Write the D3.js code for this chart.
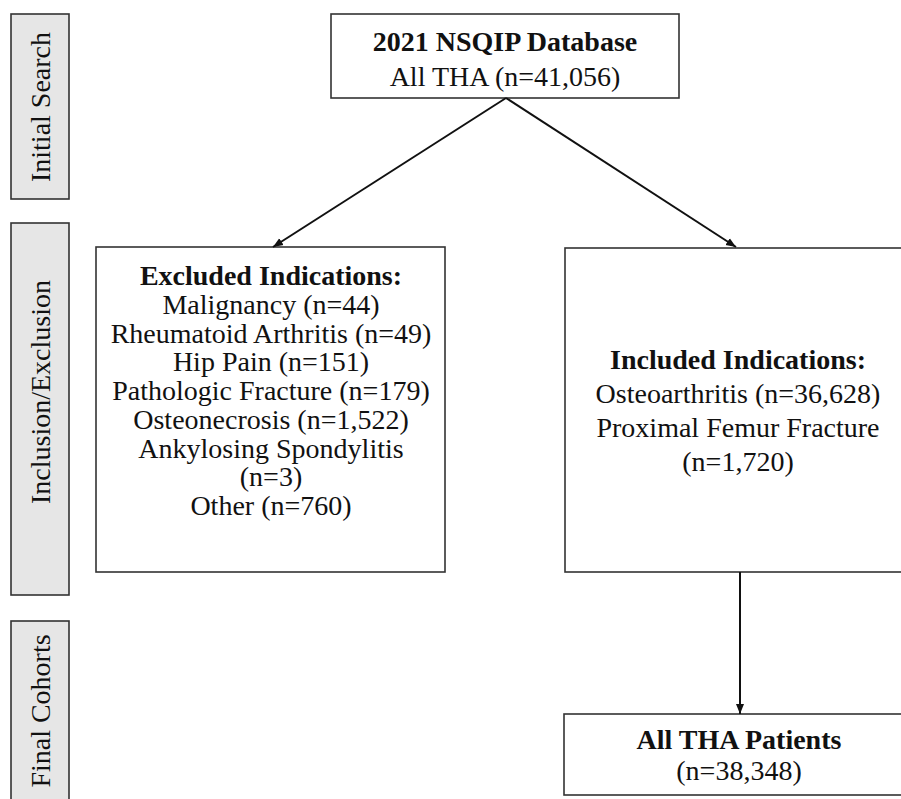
<!DOCTYPE html>
<html>
<head>
<meta charset="utf-8">
<script src="https://cdn.jsdelivr.net/npm/d3@7"></script>
<style>
  body { margin: 0; background: #fff; }
  svg { display: block; }
</style>
</head>
<body>
<div id="chart"></div>
<script>
// stage labels down the left side
const stageNames = ["Initial Search", "Inclusion/Exclusion", "Final Cohorts"];

// source cohort
const sourceTitle = "2021 NSQIP Database";
const sourceLabel = "All THA";
const sourceCount = 41056;

// excluded indications (label lines, count)
const excludedTitle = "Excluded Indications:";
const excludedNames = ["Malignancy", "Rheumatoid Arthritis", "Hip Pain", "Pathologic Fracture", "Osteonecrosis", "Ankylosing Spondylitis", "Other"];
const excludedCounts = [44, 49, 151, 179, 1522, 3, 760];
const excludedWrap = [false, false, false, false, false, true, false];

// included indications
const includedTitle = "Included Indications:";
const includedNames = ["Osteoarthritis", "Proximal Femur Fracture"];
const includedCounts = [36628, 1720];
const includedWrap = [false, true];

// final cohort
const finalTitle = "All THA Patients";
const finalCount = 38348;

const W = 901, H = 799;
const fmt = d3.format(",");
const FONT = "'Liberation Serif', 'Times New Roman', serif";
const FS = 28;

const svg = d3.select("#chart").append("svg")
  .attr("width", W).attr("height", H)
  .style("font-family", FONT);

svg.append("defs").append("marker")
  .attr("id", "arrow")
  .attr("viewBox", "0 0 10 10")
  .attr("refX", 10).attr("refY", 5)
  .attr("markerWidth", 10).attr("markerHeight", 10)
  .attr("markerUnits", "userSpaceOnUse")
  .attr("orient", "auto")
  .append("path")
  .attr("d", "M0,1 L10,5 L0,9 Z")
  .attr("fill", "#111");

// side stage boxes
const stageBoxes = [
  { y0: 14, y1: 199, cy: 107 },
  { y0: 223, y1: 595, cy: 392 },
  { y0: 621, y1: 830, cy: 711 }
];
const stages = svg.append("g").attr("id", "stages");
stageBoxes.forEach((b, i) => {
  stages.append("rect")
    .attr("x", 11).attr("y", b.y0)
    .attr("width", 58).attr("height", b.y1 - b.y0)
    .attr("fill", "#e6e6e6")
    .attr("stroke", "#333").attr("stroke-width", 1.6);
  stages.append("text")
    .attr("transform", `translate(40,${b.cy}) rotate(-90)`)
    .attr("text-anchor", "middle")
    .attr("dy", "0.35em")
    .attr("font-size", FS)
    .attr("fill", "#111")
    .text(stageNames[i]);
});

// build line list for a box: bold title then items
function buildLines(title, names, counts, wrap) {
  const lines = [{ text: title, bold: true }];
  names.forEach((n, i) => {
    const c = `(n=${fmt(counts[i])})`;
    if (wrap[i]) {
      lines.push({ text: n, bold: false });
      lines.push({ text: c, bold: false });
    } else {
      lines.push({ text: `${n} ${c}`, bold: false });
    }
  });
  return lines;
}

function drawBox(g, box) {
  g.append("rect")
    .attr("x", box.x0).attr("y", box.y0)
    .attr("width", box.x1 - box.x0).attr("height", box.y1 - box.y0)
    .attr("fill", "#fff")
    .attr("stroke", "#333").attr("stroke-width", 1.6);
  const t = g.append("text")
    .attr("text-anchor", "middle")
    .attr("font-size", FS)
    .attr("fill", "#111");
  box.lines.forEach((l, i) => {
    t.append("tspan")
      .attr("x", box.cx)
      .attr("y", box.firstBase + i * box.step)
      .attr("font-weight", l.bold ? "bold" : "normal")
      .text(l.text);
  });
}

const boxes = [
  {
    x0: 331, x1: 679, y0: 14, y1: 98, cx: 505, firstBase: 51, step: 35,
    lines: [{ text: sourceTitle, bold: true }, { text: `${sourceLabel} (n=${fmt(sourceCount)})`, bold: false }]
  },
  {
    x0: 96, x1: 445, y0: 247, y1: 572, cx: 271, firstBase: 285, step: 28.75,
    lines: buildLines(excludedTitle, excludedNames, excludedCounts, excludedWrap)
  },
  {
    x0: 565, x1: 915, y0: 248, y1: 572, cx: 738, firstBase: 369, step: 34,
    lines: buildLines(includedTitle, includedNames, includedCounts, includedWrap)
  },
  {
    x0: 564, x1: 915, y0: 714, y1: 795, cx: 739, firstBase: 749, step: 31,
    lines: [{ text: finalTitle, bold: true }, { text: `(n=${fmt(finalCount)})`, bold: false }]
  }
];

const boxG = svg.append("g").attr("id", "boxes");
boxes.forEach(b => drawBox(boxG.append("g"), b));

// connectors
const links = [
  [[506, 98], [273, 247]],
  [[506, 98], [736, 247]],
  [[740, 572], [740, 714]]
];
svg.append("g").attr("id", "links")
  .selectAll("path")
  .data(links)
  .join("path")
  .attr("d", d => d3.line()(d))
  .attr("stroke", "#111")
  .attr("stroke-width", 2)
  .attr("fill", "none")
  .attr("marker-end", "url(#arrow)");
</script>
</body>
</html>
